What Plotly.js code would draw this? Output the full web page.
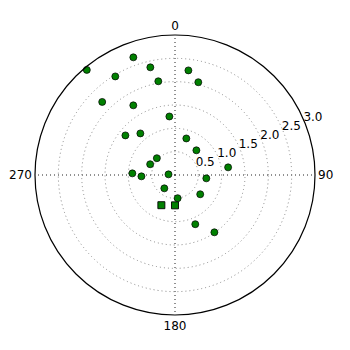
<!DOCTYPE html>
<html><head><meta charset="utf-8">
<script src="https://cdn.plot.ly/plotly-3.0.1.min.js"></script>
<style>html,body{margin:0;padding:0;background:#fff}#chart{width:350px;height:350px}</style>
</head><body><div id="chart"></div>
<script>
// circle markers
var circR = [2.94, 2.675, 2.367, 2.26, 2.47, 2.04, 2.05, 2.21, 1.74, 1.26, 1.36, 1.16, 0.82, 0.70, 0.53, 0.58, 1.15, 0.915, 0.72, 0.14, 0.675, 0.366, 0.68, 0.50, 1.14, 1.49];
var circTheta = [320, 340.5, 347.1, 7.3, 328.8, 349.9, 14.1, 315.1, 329.1, 354.5, 308.6, 320.2, 17.2, 40.9, 312.8, 293.4, 81.8, 272.2, 267.7, 275.7, 96.1, 218.7, 127.4, 173.5, 157.6, 145.5];
// square markers
var sqR = [0.71, 0.65];
var sqTheta = [204.3, 180];
var radialTicks = [0.5, 1.0, 1.5, 2.0, 2.5, 3.0];
var radialLabels = ['0.5', '1.0', '1.5', '2.0', '2.5', '3.0'];
var angTicks = [0, 90, 180, 270];
var angLabels = ['0', '90', '180', '270'];
var radialLabelAngle = 67.5;
var labelOffset = 0.2;
var rMax = 3.0;

// main polar occupies [0.1, 0.9]; overlay polar occupies [0, 1] with the same px-per-unit
var mainDom = [0.1, 0.9];
var overlayMax = rMax * 1.0 / (mainDom[1] - mainDom[0]);

var traces = [
  {type: 'scatterpolar', subplot: 'polar', mode: 'markers', r: circR, theta: circTheta,
   marker: {symbol: 'circle', size: 7, color: '#008000', line: {color: '#000', width: 0.7}},
   cliponaxis: false, showlegend: false},
  {type: 'scatterpolar', subplot: 'polar', mode: 'markers', r: sqR, theta: sqTheta,
   marker: {symbol: 'square', size: 7, color: '#008000', line: {color: '#000', width: 0.9}},
   cliponaxis: false, showlegend: false},
  {type: 'scatterpolar', subplot: 'polar2', mode: 'text',
   r: radialTicks.map(function (v) { return v + labelOffset; }),
   theta: radialTicks.map(function () { return radialLabelAngle; }),
   text: radialLabels, textposition: 'middle center',
   textfont: {family: 'DejaVu Sans', size: 12, color: '#000'},
   cliponaxis: false, showlegend: false, hoverinfo: 'skip'}
];
var hiddenAxis = {showline: false, showgrid: false, showticklabels: false, ticks: ''};
var layout = {
  width: 350, height: 350,
  margin: {l: 0, r: 0, t: 0, b: 0},
  paper_bgcolor: '#fff',
  font: {family: 'DejaVu Sans', size: 12, color: '#000'},
  showlegend: false,
  polar: {
    bgcolor: '#fff',
    domain: {x: mainDom, y: mainDom},
    angularaxis: {
      rotation: 90, direction: 'clockwise',
      tickmode: 'array', tickvals: angTicks, ticktext: angLabels,
      ticks: '', showline: true, linecolor: '#000', linewidth: 1.2,
      showgrid: true, gridcolor: '#222', griddash: '1px,3px', gridwidth: 1,
      tickfont: {family: 'DejaVu Sans', size: 12, color: '#000'}
    },
    radialaxis: {
      range: [0, rMax], angle: 22.5,
      tickmode: 'array', tickvals: radialTicks, ticktext: radialLabels,
      showticklabels: false,
      ticks: '', showline: false,
      showgrid: true, gridcolor: '#888', griddash: '1px,3px', gridwidth: 1
    }
  },
  polar2: {
    bgcolor: 'rgba(0,0,0,0)',
    domain: {x: [0, 1], y: [0, 1]},
    angularaxis: Object.assign({rotation: 90, direction: 'clockwise'}, hiddenAxis),
    radialaxis: Object.assign({range: [0, overlayMax]}, hiddenAxis)
  }
};
Plotly.newPlot('chart', traces, layout, {staticPlot: true, displayModeBar: false});
</script></body></html>
